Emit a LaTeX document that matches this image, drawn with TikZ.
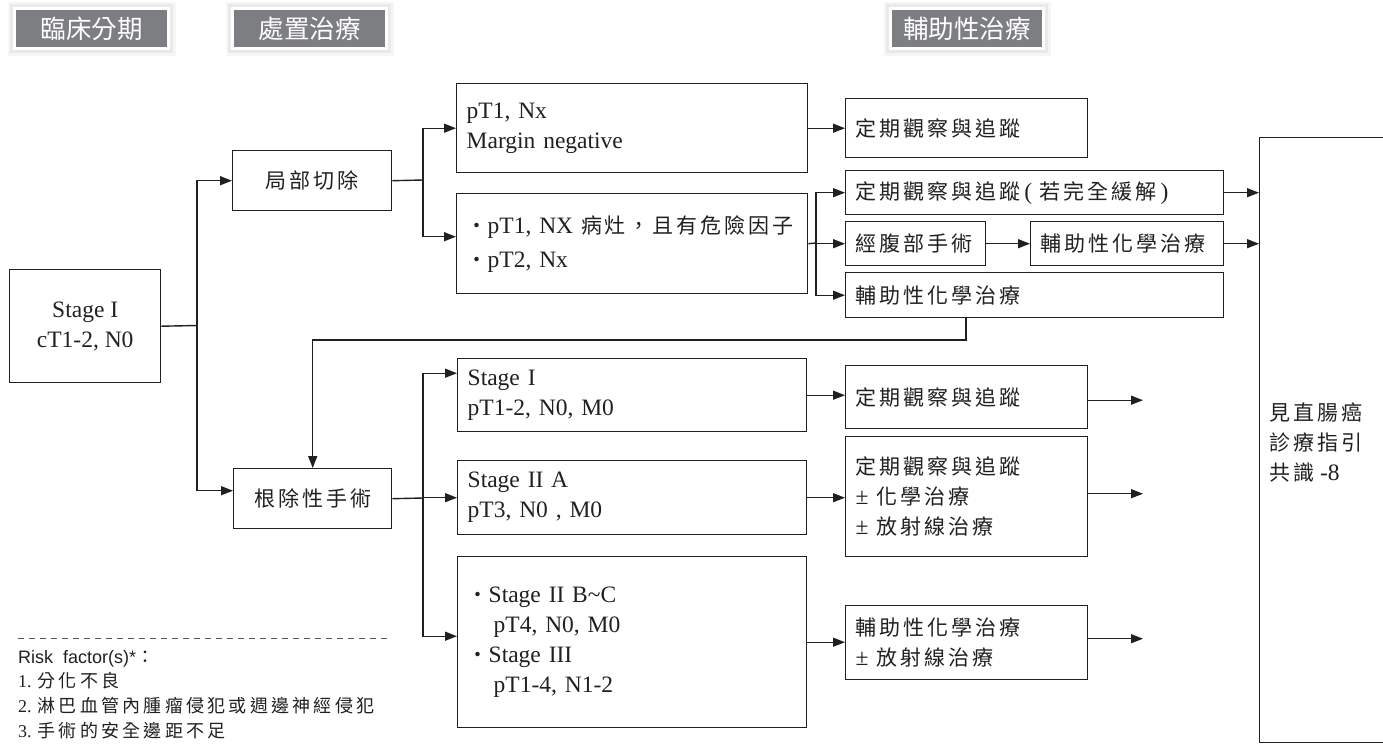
\documentclass[tikz,border=0pt]{standalone}
\usepackage{fontspec}
\setmainfont{Liberation Serif}
\newfontfamily\cjkb{Noto Sans CJK TC}[LetterSpace=14]
\newfontfamily\cjks{Noto Sans CJK TC}[LetterSpace=18]
\newfontfamily\cjkh{Noto Sans CJK TC}
\newfontfamily\arialf{Liberation Sans}
\usetikzlibrary{arrows.meta}
\definecolor{lc}{RGB}{35,31,32}
\definecolor{tagc}{RGB}{125,126,130}
\newcommand\zhb[1]{{\fontsize{21}{30}\selectfont\cjkb #1}}
\newcommand\zhs[1]{{\cjks #1}}
\begin{document}
\begin{tikzpicture}[x=1pt,y=-1pt,
  bx/.style={draw=lc, line width=1.4pt, inner sep=0pt, anchor=north west, text=lc,
    font=\fontsize{23.5}{30}\selectfont},
  ln/.style={draw=lc, line width=1.4pt},
  ar/.style={draw=lc, line width=1.4pt, -{Triangle[length=12pt,width=9pt]}},
  tag/.style={fill=tagc, text=white, minimum width=151pt, minimum height=37pt, inner sep=0pt,
    font=\fontsize{25.5}{28}\selectfont\cjkh,
    preaction={draw=black, draw opacity=0.035, line width=17pt},
    preaction={draw=black, draw opacity=0.05, line width=12pt},
    preaction={draw=white, line width=6pt}}
]
\useasboundingbox (0,0) rectangle (1383,745);

% header tags
\node[tag] (T1) at (91.5,28.5) {臨床分期};
\node[tag] (T2) at (309.5,28.5) {處置治療};
\node[tag, minimum width=150pt] (T3) at (967,28.5) {輔助性治療};

% boxes
\node[bx, minimum width=151pt, minimum height=113pt, align=center] (A) at (9,269) {Stage I\\cT1-2, N0};
\node[bx, minimum width=159pt, minimum height=60pt] (B) at (232,150) {\zhb{局部切除}};
\node[bx, minimum width=158pt, minimum height=60pt] (C) at (233,468) {\zhb{根除性手術}};
\node[bx, minimum width=351pt, minimum height=89pt, text width=331pt, align=left] (D) at (456,83) {pT1, Nx\\Margin negative};
\node[bx, minimum width=351pt, minimum height=100pt, text width=331pt, align=left,
  font=\fontsize{23.5}{34}\selectfont] (E) at (456,193) {\zhb{・}pT1, NX \zhb{病灶，且有危險因子}\\\zhb{・}pT2, Nx};
\node[bx, minimum width=242pt, minimum height=59pt, text width=222pt, align=left] (F) at (845,98) {\zhb{定期觀察與追蹤}};
\node[bx, minimum width=378pt, minimum height=44pt, text width=358pt, align=left] (G) at (845,170) {\zhb{定期觀察與追蹤}\,(\ \zhb{若完全緩解}\,)};
\node[bx, minimum width=140pt, minimum height=44pt, text width=120pt, align=left] (H) at (845,221) {\zhb{經腹部手術}};
\node[bx, minimum width=193pt, minimum height=44pt, text width=173pt, align=left] (I) at (1030,221) {\zhb{輔助性化學治療}};
\node[bx, minimum width=378pt, minimum height=45pt, text width=358pt, align=left] (J) at (845,272) {\zhb{輔助性化學治療}};
\node[bx, minimum width=349pt, minimum height=73pt, text width=329pt, align=left] (K) at (457,358) {Stage I\\pT1-2, N0, M0};
\node[bx, minimum width=349pt, minimum height=74pt, text width=329pt, align=left] (L) at (457,460) {Stage II A\\pT3, N0 , M0};
\node[bx, minimum width=349pt, minimum height=171pt, text width=329pt, align=left] (M) at (457,556)
  {\zhb{・}Stage II B\textasciitilde C\\\hspace*{26pt}pT4, N0, M0\\\zhb{・}Stage III\\\hspace*{26pt}pT1-4, N1-2};
\node[bx, minimum width=242pt, minimum height=63pt, text width=222pt, align=left] (N) at (845,365) {\zhb{定期觀察與追蹤}};
\node[bx, minimum width=242pt, minimum height=120pt, text width=222pt, align=left] (O) at (845,436)
  {\zhb{定期觀察與追蹤}\\±\ \zhb{化學治療}\\±\ \zhb{放射線治療}};
\node[bx, minimum width=242pt, minimum height=74pt, text width=222pt, align=left] (P) at (845,605)
  {\zhb{輔助性化學治療}\\±\ \zhb{放射線治療}};
\node[bx, minimum width=150pt, minimum height=605pt] (Q) at (1259,137) {};
\node[anchor=west, align=left, text=lc, inner sep=0pt, font=\fontsize{23.5}{30}\selectfont] (Qt) at (1269,442)
  {\zhb{見直腸癌}\\\zhb{診療指引}\\\zhb{共識} -8};

% risk factors
\draw[draw=lc!75, line width=1pt, dash pattern=on 6pt off 5pt] (18,638) -- (390,638);
\node[anchor=north west, align=left, text=lc, inner sep=0pt, font=\fontsize{18}{24.7}\selectfont] (R) at (18,650)
  {{\arialf Risk\ \ factor(s)*}{\cjkh ：}\\
   1. \zhs{分化不良}\\
   2. \zhs{淋巴血管內腫瘤侵犯或週邊神經侵犯}\\
   3. \zhs{手術的安全邊距不足}};

% connectors
\coordinate (s1) at (197,325.5);
\draw[ln] (A.east) -- (s1);
\draw[ar] (s1) |- (B.west);
\draw[ar] (s1) |- ([yshift=8pt]C.west);
\coordinate (s2) at (423,180);
\draw[ln] (B.east) -- (s2);
\draw[ar] (s2) |- (D.west);
\draw[ar] (s2) |- ([yshift=7pt]E.west);
\draw[ar] (D.east) -- (D.east -| F.west);
\coordinate (s3) at (816,243);
\draw[ln] (E.east) -- (s3);
\draw[ar] (s3) |- (G.west);
\draw[ar] (s3) |- (H.west);
\draw[ar] (s3) |- (J.west);
\draw[ar] (H.east) -- (I.west);
\draw[ar] (G.east) -- (G.east -| Q.west);
\draw[ar] (I.east) -- (I.east -| Q.west);
\coordinate (s4) at (966,340);
\draw[ar] (s4 |- J.south) -- (s4) -| (C.north);
\coordinate (s5) at (423,498);
\draw[ln] (C.east) -- (s5);
\draw[ar] (s5) |- ([yshift=22pt]K.west);
\draw[ar] (s5) |- (L.west);
\draw[ar] (s5) |- ([yshift=6pt]M.west);
\draw[ar] (K.east) -- (K.east -| N.west);
\draw[ar] (L.east) -- (L.east -| O.west);
\draw[ar] (M.east) -- (M.east -| P.west);
\coordinate (o1) at (1143,0);
\draw[ar] ([yshift=-3pt]N.east) -- ([yshift=-3pt]N.east -| o1);
\draw[ar] ([yshift=3pt]O.east) -- ([yshift=3pt]O.east -| o1);
\draw[ar] ([yshift=4pt]P.east) -- ([yshift=4pt]P.east -| o1);
\end{tikzpicture}
\end{document}
